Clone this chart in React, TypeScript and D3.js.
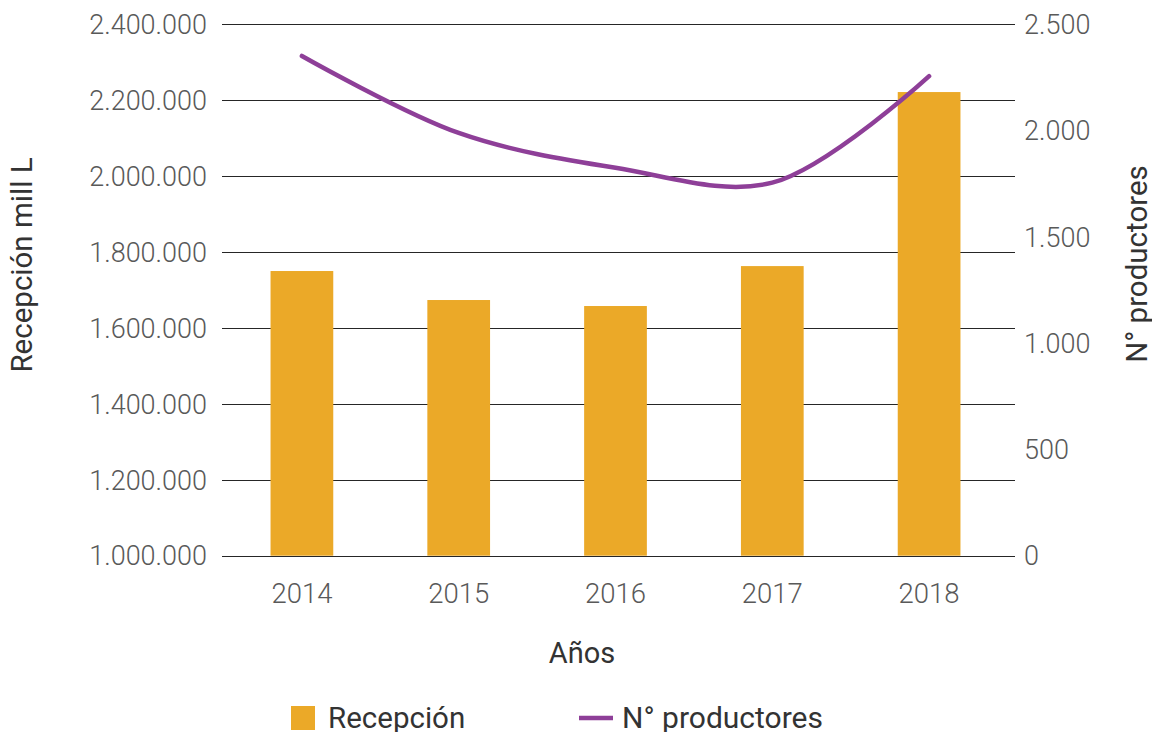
import React from 'react';
import * as d3 from 'd3';

// data
const years = ['2014', '2015', '2016', '2017', '2018'];
const recepcion = [1750000, 1673600, 1657800, 1763000, 2221500];
const productores = [2351, 1989, 1825, 1755, 2256];
const leftTicks = [1000000, 1200000, 1400000, 1600000, 1800000, 2000000, 2200000, 2400000];
const rightTicks = [0, 500, 1000, 1500, 2000, 2500];

const W = 1152;
const H = 732;
const FONT = 'Roboto, "Open Sans", sans-serif';
const TEXT = '#595959';
const BAR = '#EBA928';
const LINE = '#8E3F98';

const fmt = (v: number) => d3.format(',')(v).replace(/,/g, '.');

export default function App() {
  const plot = { left: 222, right: 1015, top: 24.3, bottom: 555.7 };

  const x = d3.scaleBand<string>()
    .domain(years)
    .range([223.5, 1007.5])
    .paddingInner(0.6)
    .paddingOuter(0.3);

  const yL = d3.scaleLinear().domain([1000000, 2400000]).range([plot.bottom, plot.top]);
  const yR = d3.scaleLinear().domain([0, 2500]).range([plot.bottom, plot.top]);

  const line = d3.line<number>()
    .x((_, i) => (x(years[i]) as number) + x.bandwidth() / 2)
    .y((d) => yR(d))
    .curve(d3.curveCatmullRom.alpha(0.5));

  return (
    <svg width={W} height={H} style={{ display: 'block', position: 'absolute', left: 0, top: 0 }}
      fontFamily={FONT} fontWeight={300}>
      <rect width={W} height={H} fill="#fff" />

      {/* gridlines */}
      {leftTicks.map((t) => (
        <line key={t} x1={plot.left} x2={plot.right} y1={Math.round(yL(t)) + 0.5} y2={Math.round(yL(t)) + 0.5}
          stroke="#262626" strokeWidth={1} shapeRendering="crispEdges" />
      ))}

      {/* left tick labels */}
      {leftTicks.map((t) => (
        <text key={t} x={207} y={yL(t)} dy="0.36em" textAnchor="end" fontSize={27} fill={TEXT}>
          {fmt(t)}
        </text>
      ))}

      {/* right tick labels */}
      {rightTicks.map((t) => (
        <text key={t} x={1024} y={yR(t)} dy="0.36em" textAnchor="start" fontSize={27} fill={TEXT}>
          {fmt(t)}
        </text>
      ))}

      {/* bars */}
      {recepcion.map((v, i) => (
        <rect key={years[i]} x={x(years[i])} y={yL(v)} width={x.bandwidth()}
          height={yL(1000000) - yL(v)} fill={BAR} />
      ))}

      {/* line */}
      <path d={line(productores) || ''} fill="none" stroke={LINE} strokeWidth={4.5}
        strokeLinecap="round" strokeLinejoin="round" />

      {/* x labels */}
      {years.map((y) => (
        <text key={y} x={(x(y) as number) + x.bandwidth() / 2} y={593} dy="0.36em"
          textAnchor="middle" fontSize={27.5} fill={TEXT}>{y}</text>
      ))}

      {/* axis titles */}
      <text x={582} y={653} dy="0.36em" textAnchor="middle" fontSize={29} fill="#333"
        fontWeight={400}>Años</text>
      <text transform="translate(21,265) rotate(-90)" dy="0.36em" textAnchor="middle"
        fontSize={29.5} fill="#333" fontWeight={400}>Recepción mill L</text>
      <text transform="translate(1136,264) rotate(-90)" dy="0.36em" textAnchor="middle"
        fontSize={29.5} fill="#333" fontWeight={400}>N° productores</text>

      {/* legend */}
      <rect x={291} y={706} width={24} height={24} fill={BAR} />
      <text x={328} y={717} dy="0.36em" fontSize={29.5} fill="#333" fontWeight={400}>Recepción</text>
      <line x1={579} x2={613} y1={718} y2={718} stroke={LINE} strokeWidth={4.5} />
      <text x={622} y={717} dy="0.36em" fontSize={30} fill="#333" fontWeight={400}>N° productores</text>
    </svg>
  );
}
